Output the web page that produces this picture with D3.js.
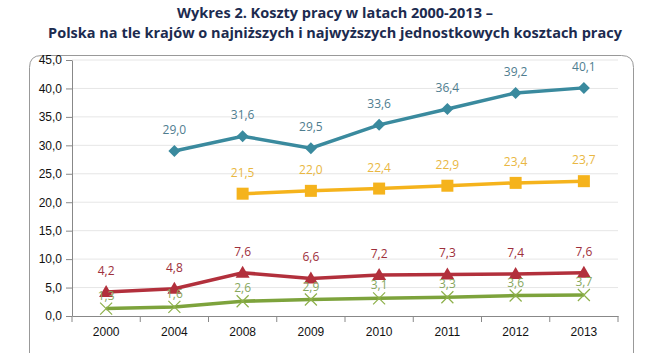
<!DOCTYPE html>
<html>
<head>
<meta charset="utf-8">
<script src="https://cdn.jsdelivr.net/npm/d3@7"></script>
<style>
  body { margin: 0; background: #fff; }
  svg { display: block; font-family: 'Open Sans', sans-serif; }
  .axis text { font-size: 12px; fill: #111; }
  .axis path, .axis line { stroke: #888; }
</style>
</head>
<body>
<svg id="chart"></svg>
<script>
const years = ['2000', '2004', '2008', '2009', '2010', '2011', '2012', '2013'];
const highest = [null, 29.0, 31.6, 29.5, 33.6, 36.4, 39.2, 40.1];
const secondHighest = [null, null, 21.5, 22.0, 22.4, 22.9, 23.4, 23.7];
const poland = [4.2, 4.8, 7.6, 6.6, 7.2, 7.3, 7.4, 7.6];
const lowest = [1.3, 1.6, 2.6, 2.9, 3.1, 3.3, 3.6, 3.7];
const yTicks = [0, 5, 10, 15, 20, 25, 30, 35, 40, 45];

const series = [
  { values: highest, color: '#3a8a9e', label: '#4f7d8f', marker: 'diamond', dy: -17 },
  { values: secondHighest, color: '#f5b31c', label: '#e9b742', marker: 'square', dy: -17 },
  { values: poland, color: '#b2303c', label: '#9e2f3b', marker: 'triangle', dy: -17 },
  { values: lowest, color: '#7da33c', label: '#88a860', marker: 'cross', dy: -9 },
];

const width = 670;
const height = 353;
const margin = { top: 60, right: 52, bottom: 37, left: 72 };
const innerWidth = width - margin.left - margin.right;
const innerHeight = height - margin.top - margin.bottom;

const svg = d3.select('#chart').attr('width', width).attr('height', height);

// Frame (runs off the bottom like the original)
svg.append('path')
  .attr('d', 'M29.5,353V67.5Q29.5,55.5 41.5,55.5H621.5Q633.5,55.5 633.5,67.5V353')
  .attr('fill', 'none')
  .attr('stroke', '#999');

// Title
svg.append('text')
  .attr('x', 335).attr('y', 18)
  .attr('text-anchor', 'middle')
  .attr('font-size', 14.5).attr('font-weight', 'bold').attr('fill', '#1c2b4f')
  .text('Wykres 2. Koszty pracy w latach 2000-2013 –');
svg.append('text')
  .attr('x', 335).attr('y', 38)
  .attr('text-anchor', 'middle')
  .attr('font-size', 14.5).attr('font-weight', 'bold').attr('fill', '#1c2b4f')
  .text('Polska na tle krajów o najniższych i najwyższych jednostkowych kosztach pracy');

const g = svg.append('g').attr('transform', `translate(${margin.left}, ${margin.top})`);

const x = d3.scaleBand().domain(years).range([0, innerWidth]);
const y = d3.scaleLinear().domain([0, 45]).range([innerHeight, 0]);
const fmt = v => d3.format('.1f')(v).replace('.', ',');

// Grid
g.append('g')
  .selectAll('line')
  .data(yTicks.slice(1))
  .enter().append('line')
    .attr('x1', 0).attr('x2', innerWidth)
    .attr('y1', d => y(d)).attr('y2', d => y(d))
    .attr('stroke', '#e6e6e6');

// Y axis
g.append('g')
  .attr('class', 'axis')
  .call(d3.axisLeft(y).tickValues(yTicks).tickFormat(fmt).tickSize(6).tickSizeOuter(0).tickPadding(4));

// X axis
const xAxis = g.append('g')
  .attr('class', 'axis')
  .attr('transform', `translate(0, ${innerHeight})`)
  .call(d3.axisBottom(x).tickSize(0).tickPadding(11).tickSizeOuter(0));
xAxis.selectAll('.boundary')
  .data(d3.range(years.length + 1))
  .enter().append('line')
    .attr('class', 'boundary')
    .attr('x1', i => i * x.step()).attr('x2', i => i * x.step())
    .attr('y1', 0).attr('y2', 6)
    .attr('stroke', '#888');

const line = d3.line()
  .defined(d => d != null)
  .x((d, i) => x(years[i]) + x.bandwidth() / 2)
  .y(d => y(d));

function drawMarker(sel, type, color) {
  if (type === 'diamond') {
    sel.append('path').attr('d', 'M0,-6L6,0L0,6L-6,0Z').attr('fill', color);
  } else if (type === 'square') {
    sel.append('rect').attr('x', -6).attr('y', -6).attr('width', 12).attr('height', 12).attr('fill', color);
  } else if (type === 'triangle') {
    sel.append('path').attr('d', 'M0,-7L7,5L-7,5Z').attr('fill', color);
  } else {
    sel.append('path').attr('d', 'M-6,-6L6,6M-6,6L6,-6').attr('stroke', '#8db04a').attr('stroke-width', 1.2);
  }
}

series.forEach(s => {
  g.append('path')
    .datum(s.values)
    .attr('fill', 'none')
    .attr('stroke', s.color)
    .attr('stroke-width', 3.5)
    .attr('d', line);

  const pts = s.values.map((v, i) => ({ v, year: years[i] })).filter(d => d.v != null);

  const m = g.selectAll(null)
    .data(pts)
    .enter().append('g')
      .attr('transform', d => `translate(${x(d.year) + x.bandwidth() / 2}, ${y(d.v)})`);
  drawMarker(m, s.marker, s.color);

  g.selectAll(null)
    .data(pts)
    .enter().append('text')
      .attr('x', d => x(d.year) + x.bandwidth() / 2)
      .attr('y', d => y(d.v) + s.dy)
      .attr('text-anchor', 'middle')
      .attr('font-size', 12)
      .attr('fill', s.label)
      .text(d => fmt(d.v));
});
</script>
</body>
</html>
